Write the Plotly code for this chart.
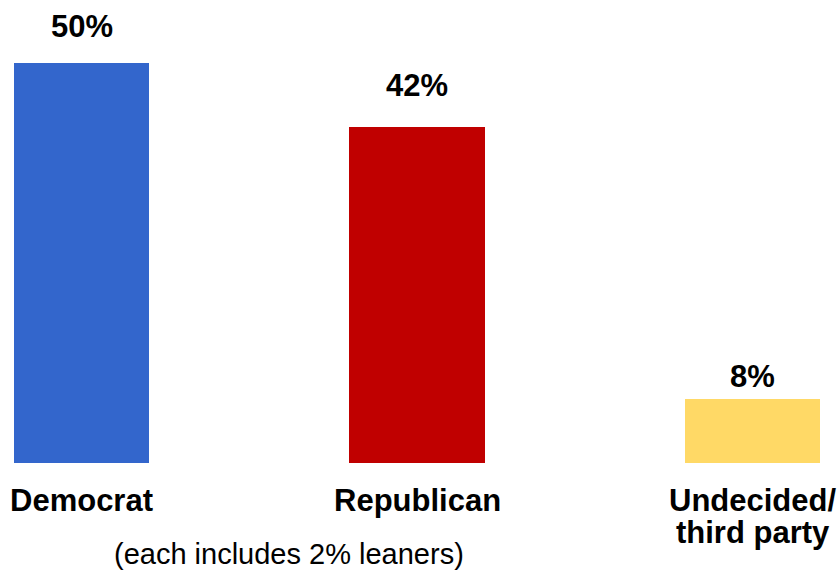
import plotly.graph_objects as go

categories = ["Democrat", "Republican", "Undecided/<br>third party"]
values = [50, 42, 8]
value_labels = ["50%", "42%", "8%"]
colors = ["#3366CC", "#C00000", "#FFD966"]
label_gap = [26, 31, 12]  # px between bar top and label baseline
footnote = "(each includes 2% leaners)"

FONT = "Liberation Sans, Arial, sans-serif"
xs = list(range(len(categories)))

fig = go.Figure()
fig.add_trace(go.Bar(
    x=xs, y=values, marker=dict(color=colors, line=dict(width=0)),
    width=0.4025, hoverinfo="skip", showlegend=False,
))

# approx descent of text below baseline within annotation box
DESC = 9
for x, v, t, g in zip(xs, values, value_labels, label_gap):
    fig.add_annotation(x=x, y=v, xref="x", yref="y", text="<b>%s</b>" % t,
                       showarrow=False, yanchor="bottom", yshift=g - DESC,
                       font=dict(family=FONT, size=31, color="black"))

LINE = 32
for x, c in zip(xs, categories):
    for i, line in enumerate(c.split("<br>")):
        fig.add_annotation(x=x, y=0, xref="x", yref="y", text="<b>%s</b>" % line,
                           showarrow=False, yanchor="top", yshift=-18 - i * LINE,
                           font=dict(family=FONT, size=31, color="black"))

fig.add_annotation(x=289 / 840, y=0, xref="paper", yref="paper", text=footnote,
                   showarrow=False, xanchor="center", yanchor="top", yshift=-73,
                   font=dict(family=FONT, size=29, color="black"))

fig.update_layout(
    width=840, height=571,
    margin=dict(l=0, r=0, t=0, b=108, pad=0),
    paper_bgcolor="white", plot_bgcolor="white",
    xaxis=dict(range=[-81.5 / 335.5, (840 - 81.5) / 335.5], visible=False, fixedrange=True),
    yaxis=dict(range=[0, 463 / 8], visible=False, fixedrange=True),
    bargap=0,
)
fig.write_html("out.html", config={"displayModeBar": False},
               post_script="document.body.style.margin='0';document.body.style.overflow='hidden';")
